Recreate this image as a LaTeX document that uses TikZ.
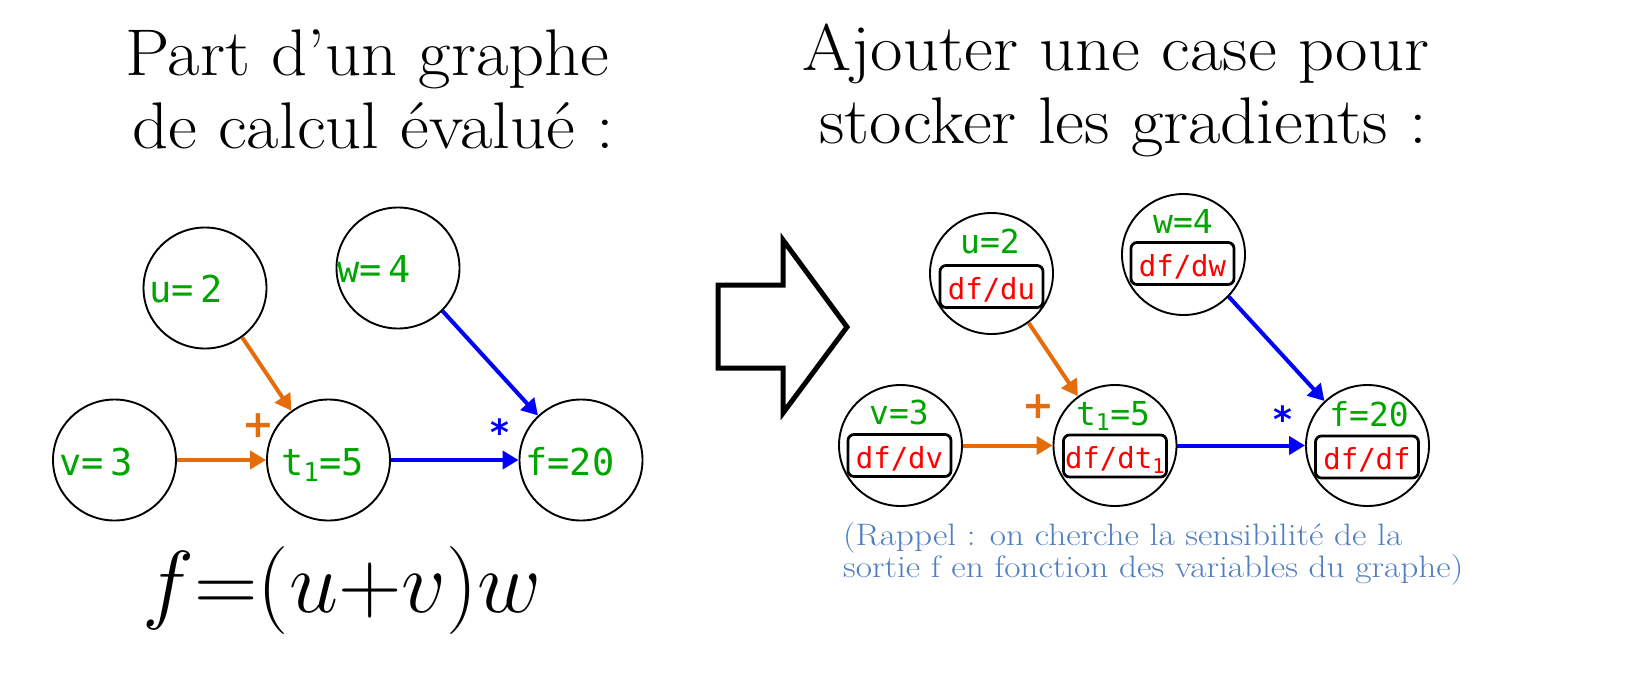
\RequirePackage{fix-cm}
\documentclass[tikz,border=0pt]{standalone}
\usepackage{fontspec}
\usepackage{graphicx}
\newfontfamily\monofont{DejaVu Sans Mono}
\newfontfamily\opfont{DejaVu Sans}
\usetikzlibrary{arrows.meta,shapes.geometric}
\definecolor{vgreen}{RGB}{0,165,0}
\definecolor{vorange}{RGB}{228,108,10}
\definecolor{vblue}{RGB}{0,0,255}
\definecolor{vred}{RGB}{255,0,0}
\definecolor{capblue}{RGB}{80,126,192}
\newcommand{\wide}[2]{\scalebox{#1}[1]{#2}}
\tikzset{
  title/.style={font=\fontsize{66}{70}\selectfont, anchor=base, inner sep=0},
  bubble/.style={ellipse, draw=black, line width=1.9pt, minimum width=123, minimum height=121, inner sep=0},
  lval/.style={font=\monofont\fontsize{37}{40}\selectfont, text=vgreen, anchor=base west, inner sep=0},
  rval/.style={font=\monofont\fontsize{33}{36}\selectfont, text=vgreen, anchor=base, inner sep=0},
  grad/.style={font=\monofont\fontsize{29}{32}\selectfont, text=vred, draw=black, line width=2.8pt, rounded corners=6pt, minimum width=103, minimum height=42, text height=27pt, text depth=2pt, inner sep=0},
  oarr/.style={draw=vorange, line width=4pt, -{Triangle[length=16pt,width=18pt]}},
  barr/.style={draw=vblue, line width=4pt, -{Triangle[length=16pt,width=18pt]}},
  opo/.style={font=\opfont\bfseries\fontsize{38}{40}\selectfont, text=vorange, inner sep=0},
  opb/.style={font=\opfont\bfseries\fontsize{36}{40}\selectfont, text=vblue, inner sep=0},
  captxt/.style={font=\fontsize{31}{34}\selectfont, text=capblue, anchor=base west, inner sep=0},
}
\begin{document}
\begin{tikzpicture}[x=1pt,y=-1pt]
\useasboundingbox (0,0) rectangle (1638,694);
% titles
\node[title] (lt1) at (367.5,75) {\wide{1.07}{Part d’un graphe}};
\node[title] (lt2) at (373,148) {\wide{1.07}{de calcul évalué :}};
\node[title] (rt1) at (1116,70) {\wide{1.07}{Ajouter une case pour}};
\node[title] (rt2) at (1123,143) {\wide{1.07}{stocker les gradients :}};

% left graph
\node[bubble] (u) at (205,288) {};
\node[bubble] (w) at (398,268) {};
\node[bubble] (v) at (114.5,460) {};
\node[bubble] (t) at (328.5,460) {};
\node[bubble] (f) at (581,460) {};
\node[lval] (ul) at (149,302) {u=\kern7pt 2};
\node[lval] (wl) at (337,282) {w=\kern7pt 4};
\node[lval] (vl) at (59,475) {v=\kern7pt 3};
\node[lval] (tl) at (281,475) {t\textsubscript{1}=5};
\node[lval] (fl) at (525,475) {f=20};
\draw[oarr] (u.-53) -- (t.127);
\draw[oarr] (v) -- (t);
\draw[barr] (t) -- (f);
\draw[barr] (w.-44) -- (f.134);
\node[opo] (plusl) at (258,426) {+};
\node[opb] (starl) at (500,432) {*};

% formula
\node[font=\fontsize{88}{92}\selectfont, anchor=base, inner sep=0] (formula) at (342,612) {$f{=}(u{+}v)w$};

% big arrow
\draw[line width=5pt, line join=miter] (718,285) -- (783,285) -- (783,240) -- (847,327) -- (783,413) -- (783,368) -- (718,368) -- cycle;

% right graph
\node[bubble] (ru) at (991.5,273.5) {};
\node[bubble] (rw) at (1183.5,254.5) {};
\node[bubble] (rv) at (900.5,445.5) {};
\node[bubble] (rt) at (1115,445.5) {};
\node[bubble] (rf) at (1367.5,445.5) {};
\node[rval] (ruv) at (990,253) {u=2};
\node[grad] (rug) at (991.5,286.5) {df/du};
\node[rval] (rwv) at (1183,233) {w=4};
\node[grad] (rwg) at (1182.5,263.5) {df/dw};
\node[rval] (rvv) at (899,424) {v=3};
\node[grad] (rvg) at (899.5,455.5) {df/dv};
\node[rval] (rtv) at (1113,425) {t\textsubscript{1}=5};
\node[grad] (rtg) at (1115,456) {df/dt\textsubscript{1}};
\node[rval] (rfv) at (1369,426) {f=20};
\node[grad] (rfg) at (1367,457) {df/df};
\draw[oarr] (ru.-53) -- (rt.127);
\draw[oarr] (rv) -- (rt);
\draw[barr] (rt) -- (rf);
\draw[barr] (rw.-43) -- (rf.134);
\node[opo] (plusr) at (1038,407) {+};
\node[opb] (starr) at (1283,419) {*};

% caption
\node[captxt] (c1) at (843,545) {\wide{1.14}{(Rappel : on cherche la sensibilité de la}};
\node[captxt] (c2) at (843,577) {\wide{1.14}{sortie f en fonction des variables du graphe)}};
\end{tikzpicture}
\end{document}
